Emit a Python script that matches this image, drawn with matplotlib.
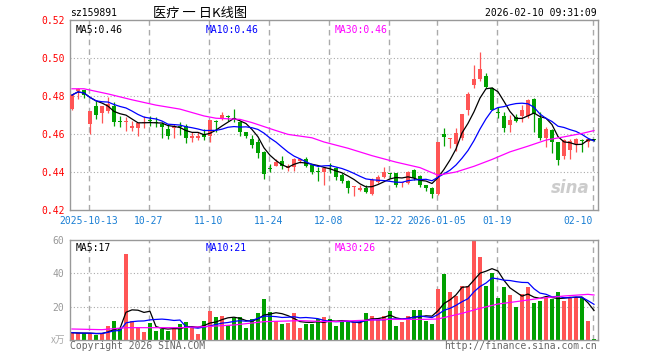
import matplotlib
matplotlib.use("Agg")
import matplotlib.pyplot as plt
import numpy as np
import pandas as pd

# daily k-line, sz159891
opens = [0.4731, 0.4826, 0.4829, 0.4653, 0.4746, 0.4711, 0.4723, 0.4746, 0.4667, 0.4661,
         0.4633, 0.4633, 0.4658, 0.4672, 0.4663, 0.4650, 0.4626, 0.4630, 0.4642, 0.4640,
         0.4579, 0.4579, 0.4600, 0.4591, 0.4667, 0.4682, 0.4695, 0.4684, 0.4665, 0.4612,
         0.4574, 0.4560, 0.4504, 0.4421, 0.4433, 0.4460, 0.4421, 0.4425, 0.4460, 0.4468,
         0.4437, 0.4404, 0.4402, 0.4434, 0.4419, 0.4384, 0.4353, 0.4319, 0.4307, 0.4316,
         0.4286, 0.4350, 0.4372, 0.4393, 0.4393, 0.4341, 0.4340, 0.4410, 0.4381, 0.4330,
         0.4314, 0.4282, 0.4600, 0.4575, 0.4546, 0.4577, 0.4726, 0.4858, 0.4888, 0.4907,
         0.4844, 0.4712, 0.4695, 0.4649, 0.4689, 0.4695, 0.4695, 0.4786, 0.4684, 0.4581,
         0.4623, 0.4558, 0.4482, 0.4514, 0.4549, 0.4568, 0.4558, 0.4570]
highs = [0.4808, 0.4842, 0.4831, 0.4723, 0.4775, 0.4746, 0.4793, 0.4767, 0.4696, 0.4688,
         0.4670, 0.4658, 0.4696, 0.4693, 0.4688, 0.4661, 0.4653, 0.4653, 0.4661, 0.4653,
         0.4609, 0.4609, 0.4626, 0.4675, 0.4675, 0.4714, 0.4700, 0.4732, 0.4670, 0.4612,
         0.4595, 0.4574, 0.4512, 0.4442, 0.4468, 0.4486, 0.4442, 0.4472, 0.4472, 0.4477,
         0.4442, 0.4425, 0.4425, 0.4445, 0.4428, 0.4393, 0.4359, 0.4328, 0.4333, 0.4333,
         0.4367, 0.4384, 0.4428, 0.4393, 0.4393, 0.4349, 0.4405, 0.4414, 0.4384, 0.4330,
         0.4323, 0.4556, 0.4633, 0.4581, 0.4633, 0.4704, 0.4819, 0.4963, 0.5030, 0.4919,
         0.4849, 0.4744, 0.4716, 0.4698, 0.4707, 0.4751, 0.4786, 0.4789, 0.4716, 0.4637,
         0.4625, 0.4558, 0.4572, 0.4575, 0.4579, 0.4575, 0.4579, 0.4572]
lows = [0.4725, 0.4783, 0.4791, 0.4600, 0.4679, 0.4658, 0.4711, 0.4640, 0.4635, 0.4618,
        0.4618, 0.4588, 0.4630, 0.4644, 0.4635, 0.4577, 0.4574, 0.4577, 0.4595, 0.4551,
        0.4560, 0.4570, 0.4570, 0.4560, 0.4609, 0.4675, 0.4670, 0.4665, 0.4588, 0.4577,
        0.4525, 0.4472, 0.4363, 0.4398, 0.4433, 0.4416, 0.4407, 0.4407, 0.4447, 0.4425,
        0.4389, 0.4354, 0.4332, 0.4397, 0.4359, 0.4341, 0.4290, 0.4272, 0.4298, 0.4290,
        0.4281, 0.4341, 0.4367, 0.4367, 0.4323, 0.4323, 0.4335, 0.4358, 0.4323, 0.4300,
        0.4265, 0.4279, 0.4539, 0.4525, 0.4511, 0.4568, 0.4700, 0.4840, 0.4879, 0.4844,
        0.4726, 0.4682, 0.4611, 0.4611, 0.4663, 0.4663, 0.4684, 0.4611, 0.4567, 0.4532,
        0.4502, 0.4439, 0.4470, 0.4470, 0.4505, 0.4505, 0.4532, 0.4565]
closes = [0.4805, 0.4838, 0.4805, 0.4723, 0.4702, 0.4746, 0.4758, 0.4665, 0.4663, 0.4665,
          0.4644, 0.4658, 0.4665, 0.4668, 0.4659, 0.4638, 0.4591, 0.4644, 0.4638, 0.4579,
          0.4591, 0.4591, 0.4582, 0.4675, 0.4663, 0.4700, 0.4692, 0.4680, 0.4612, 0.4591,
          0.4544, 0.4500, 0.4389, 0.4417, 0.4451, 0.4433, 0.4433, 0.4468, 0.4468, 0.4433,
          0.4402, 0.4400, 0.4419, 0.4431, 0.4376, 0.4353, 0.4316, 0.4328, 0.4316, 0.4295,
          0.4359, 0.4372, 0.4402, 0.4390, 0.4332, 0.4347, 0.4402, 0.4367, 0.4332, 0.4314,
          0.4282, 0.4556, 0.4584, 0.4579, 0.4604, 0.4704, 0.4809, 0.4888, 0.4940, 0.4849,
          0.4726, 0.4709, 0.4633, 0.4675, 0.4668, 0.4725, 0.4777, 0.4707, 0.4581, 0.4625,
          0.4558, 0.4461, 0.4567, 0.4561, 0.4575, 0.4565, 0.4575, 0.4568]
# volume, in 10k lots
volumes = [4.4, 4.0, 4.0, 4.0, 3.0, 4.4, 8.6, 11.6, 7.0, 51.6,
           11.6, 7.6, 5.0, 10.4, 5.6, 6.4, 5.4, 6.6, 9.6, 11.0,
           7.6, 3.4, 11.6, 17.4, 14.0, 14.6, 9.0, 13.4, 14.0, 7.4,
           12.4, 16.4, 24.6, 17.0, 11.4, 9.6, 10.4, 16.4, 7.4, 9.4,
           9.4, 12.4, 14.0, 12.4, 8.4, 11.0, 11.0, 11.0, 10.4, 16.4,
           14.4, 12.0, 14.4, 17.4, 8.4, 10.6, 14.4, 18.0, 18.0, 11.6,
           9.6, 30.6, 39.6, 29.0, 26.4, 32.4, 32.4, 59.6, 49.6, 32.4,
           40.0, 25.4, 31.6, 27.0, 20.0, 27.6, 31.6, 22.4, 23.4, 25.4,
           24.6, 28.6, 23.4, 26.0, 25.4, 25.4, 11.4, 0.6]

ma30_pos = [0, 2, 6, 10, 14, 18, 22, 24, 28, 30, 34, 36, 40, 42, 46, 50, 54, 58, 61,
            64, 67, 70, 73, 76, 79, 82, 85, 87]
ma30_val = [0.4838, 0.4838, 0.4811, 0.4780, 0.4752, 0.4731, 0.4695, 0.4683, 0.4677,
            0.4660, 0.4618, 0.4598, 0.4580, 0.4558, 0.4525, 0.4486, 0.4452, 0.4423,
            0.4383, 0.4400, 0.4430, 0.4466, 0.4506, 0.4536, 0.4568, 0.4585, 0.4603, 0.4618]
vma30_pos = [0, 5, 9, 18, 22, 27, 32, 38, 43, 47, 53, 59, 61, 65, 68, 71, 74, 78, 82, 86, 87]
vma30_val = [6.6, 6.2, 7.4, 7.4, 8.0, 9.0, 11.0, 11.6, 11.0, 11.6, 12.4, 12.4, 12.6,
             16.0, 19.0, 21.6, 23.0, 25.0, 26.4, 27.4, 27.0]

date_pos = [3, 13, 23, 33, 43, 53, 61, 71, 87]
date_labels = ["2025-10-13", "10-27", "11-10", "11-24", "12-08", "12-22",
               "2026-01-05", "01-19", "02-10"]

RED = "#ff5555"
GREEN = "#00a000"
MONO = "DejaVu Sans Mono"
FS = 7

opens = np.array(opens)
closes = np.array(closes)
x = np.arange(len(closes))
up = closes >= opens
colors = np.where(up, RED, GREEN)

ma5 = pd.Series(closes).rolling(5, min_periods=1).mean()
ma10 = pd.Series(closes).rolling(10, min_periods=1).mean()
vma5 = pd.Series(volumes).rolling(5, min_periods=1).mean()
vma10 = pd.Series(volumes).rolling(10, min_periods=1).mean()

fig = plt.figure(figsize=(6.6, 3.6), dpi=100)
ax = fig.add_axes([70 / 660, 150 / 360, 528 / 660, 190 / 360])
axv = fig.add_axes([70 / 660, 20 / 360, 528 / 660, 100 / 360])

grid_x = [p - 0.22 for p in date_pos]

for a in (ax, axv):
    a.set_xlim(-0.33, 87.67)
    for s in a.spines.values():
        s.set_color("#999999")
        s.set_linewidth(1)
    for gx in grid_x:
        a.axvline(gx, color="#aaaaaa", lw=1, ls=(0, (4, 3)), zorder=0)
    a.tick_params(length=0)

# price panel
for gy in [0.44, 0.46, 0.48, 0.50]:
    ax.axhline(gy, color="#aaaaaa", lw=0.8, ls=(0, (1, 2)), zorder=0)
ax.vlines(x, lows, highs, colors=colors, lw=0.9, zorder=2)
body_lo = np.minimum(opens, closes)
body_h = np.maximum(np.abs(closes - opens), 0.0005)
ax.bar(x, body_h, bottom=body_lo, width=0.82, color=colors, lw=0, zorder=3)
ax.plot(x, ma5, color="black", lw=0.9, zorder=4)
ax.plot(x, ma10, color="#0000ff", lw=0.9, zorder=4)
ax.plot(ma30_pos, ma30_val, color="#ff00ff", lw=0.9, zorder=4)
ax.set_ylim(0.42, 0.52)
ax.set_yticks([0.42, 0.44, 0.46, 0.48, 0.50, 0.52])
ax.set_yticklabels(["0.42", "0.44", "0.46", "0.48", "0.50", "0.52"],
                   color="red", family=MONO, fontsize=FS)
ax.set_xticks(grid_x)
ax.set_xticklabels(date_labels, color="#1a7fd4", family=MONO, fontsize=FS)
ax.tick_params(axis="x", pad=4)
ax.tick_params(axis="y", pad=4)
ax.get_xticklabels()[-1].set_ha("right")

ax.text(0.01, 0.975, "MA5:0.46", transform=ax.transAxes, va="top",
        family=MONO, fontsize=FS, color="black")
ax.text(0.256, 0.975, "MA10:0.46", transform=ax.transAxes, va="top",
        family=MONO, fontsize=FS, color="#0000ff")
ax.text(0.502, 0.975, "MA30:0.46", transform=ax.transAxes, va="top",
        family=MONO, fontsize=FS, color="#ff00ff")
ax.text(0.985, 0.07, "sina", transform=ax.transAxes, ha="right", va="bottom",
        fontsize=12, fontweight="bold", style="italic", color="#cccccc", zorder=1)

# volume panel
for gy in [20, 40]:
    axv.axhline(gy, color="#aaaaaa", lw=0.8, ls=(0, (1, 2)), zorder=0)
axv.bar(x, volumes, width=0.82, color=colors, lw=0, zorder=2)
axv.plot(x, vma5, color="black", lw=0.9, zorder=3)
axv.plot(x, vma10, color="#0000ff", lw=0.9, zorder=3)
axv.plot(vma30_pos, vma30_val, color="#ff00ff", lw=0.9, zorder=3)
axv.set_ylim(0, 60)
axv.set_yticks([20, 40, 60])
axv.set_yticklabels(["20", "40", "60"], color="#999999", family=MONO, fontsize=FS)
axv.tick_params(axis="y", pad=4)
axv.set_xticks([])
axv.text(-0.008, 0.0, "x万", transform=axv.transAxes, ha="right", va="center",
         family=["Noto Sans CJK SC", "DejaVu Sans"], fontsize=7, color="#aaaaaa")

axv.text(0.01, 0.97, "MA5:17", transform=axv.transAxes, va="top",
         family=MONO, fontsize=FS, color="black")
axv.text(0.256, 0.97, "MA10:21", transform=axv.transAxes, va="top",
         family=MONO, fontsize=FS, color="#0000ff")
axv.text(0.502, 0.97, "MA30:26", transform=axv.transAxes, va="top",
         family=MONO, fontsize=FS, color="#ff00ff")

# header and footer
fig.text(70 / 660, 1 - 13 / 360, "sz159891", va="center", family=MONO, fontsize=FS)
fig.text(200 / 660, 1 - 13 / 360, "医疗 一 日K线图", ha="center", va="center",
         family=["Noto Sans CJK SC", "DejaVu Sans"], fontsize=9.5)
fig.text(597 / 660, 1 - 13 / 360, "2026-02-10 09:31:09", ha="right", va="center",
         family=MONO, fontsize=FS)
fig.text(70 / 660, 1 - 346 / 360, "Copyright 2026 SINA.COM", va="center",
         family=MONO, fontsize=FS, color="#666666")
fig.text(597 / 660, 1 - 346 / 360, "http://finance.sina.com.cn", ha="right",
         va="center", family=MONO, fontsize=FS, color="#666666")

fig.savefig("out.png", dpi=100)
